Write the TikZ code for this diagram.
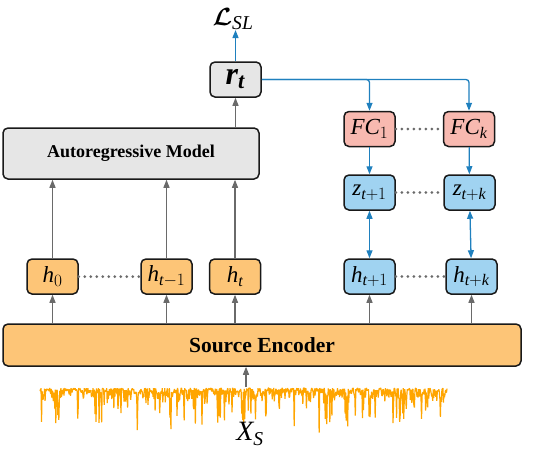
\documentclass[tikz,border=0pt]{standalone}
\usepackage{amsmath, bm}
\usepackage{fontspec}
\setmainfont{Liberation Serif}
\usetikzlibrary{positioning, arrows.meta}

\definecolor{encfill}{HTML}{FDC577}
\definecolor{predfill}{HTML}{A0D3F1}
\definecolor{fcfill}{HTML}{F8B9B0}
\definecolor{arfill}{HTML}{E6E6E6}
\definecolor{arrowgray}{HTML}{6A6A6A}
\definecolor{arrowblue}{HTML}{1F80BE}
\definecolor{wave}{HTML}{FFA500}

\newcommand{\iv}[1]{\textit{#1}}

\tikzset{
  box/.style = {draw = black!90, line width = 1.5pt, rounded corners = 5pt, inner sep = 0pt},
  small/.style = {box, minimum width = 51pt, minimum height = 35pt, font = \fontsize{23}{25}\selectfont},
  hbox/.style = {small, fill = encfill},
  zbox/.style = {small, fill = predfill},
  fcbox/.style = {small, fill = fcfill},
  up/.style = {-{Triangle[length = 8pt, width = 6pt]}, line width = 1.3pt, draw = arrowgray},
  blue/.style = {-{Triangle[length = 8pt, width = 6pt]}, line width = 1.3pt, draw = arrowblue},
  dots/.style = {draw = arrowgray, line width = 3pt, dash pattern = on 0pt off 6pt, line cap = round}
}

\begin{document}
\begin{tikzpicture}[x = 1pt, y = -1pt]
  \useasboundingbox (0,0) rectangle (534,452);

  \node (encoder) [box, fill = encfill, minimum width = 518pt, minimum height = 42pt, font = \fontsize{21.5}{23}\selectfont\bfseries] at (262,345) {Source Encoder};

  \node (hzero) [hbox] at (52.5,276.5) {$\iv{h}_0$};
  \node (htm) [hbox] at (166.5,276.5) {$\iv{h}_{\iv{t}-1}$};
  \node (ht) [hbox, right = 16pt of htm] {$\iv{h}_{\iv{t}}$};
  \node (hone) [zbox] at (369.5,276.5) {$\iv{h}_{\iv{t}+1}$};
  \node (hk) [zbox] at (471.5,276.5) {$\iv{h}_{\iv{t}+\iv{k}}$};

  \node (ar) [box, fill = arfill, minimum width = 256pt, minimum height = 51pt, font = \fontsize{18}{20}\selectfont\bfseries] at (131,153.5) {Autoregressive Model};
  \node (rt) [small, fill = arfill, font = \fontsize{32}{34}\selectfont] at (235.5,79.5) {$\textbf{\textit{r}}_{\textbf{\textit{t}}}$};
  \node (loss) [inner sep = 0pt, font = \fontsize{28}{30}\selectfont] at (233,19) {$\bm{\mathcal{L}}_{\iv{SL}}$};

  \node (fcone) [fcbox] at (369.5,129) {$\iv{FC}_1$};
  \node (fck) [fcbox] at (469,129) {$\iv{FC}_{\iv{k}}$};
  \node (zone) [zbox] at (369.5,192.5) {$\iv{z}_{\iv{t}+1}$};
  \node (zk) [zbox] at (469.5,192.5) {$\iv{z}_{\iv{t}+\iv{k}}$};

  % input signal
  \pgfmathsetseed{7}
  \draw[wave, line width = 1.2pt, line join = bevel] plot[domain = 40:447, samples = 800] (\x, {388 + 16*rnd*rnd + ifthenelse(rnd > 0.88, 12 + 24*rnd, 0)});
  \coordinate (sigtop) at (246,387);
  \node (xs) [inner sep = 0pt, font = \fontsize{28}{30}\selectfont] at (250,434) {$\iv{X}_{\iv{S}}$};

  \draw[up] (sigtop) -- (sigtop |- encoder.south);
  \foreach \h in {hzero, htm, ht, hone, hk}
    \draw[up] (\h |- encoder.north) -- (\h.south);
  \foreach \h in {hzero, htm, ht}
    \draw[up] (\h.north) -- (\h |- ar.south);
  \draw[up] (rt |- ar.north) -- (rt.south);

  \draw[blue] (rt.north) -- (rt.north |- loss.south);
  \draw[blue, rounded corners = 3pt] (rt.east) -| (fcone.north);
  \draw[blue, rounded corners = 3pt] (rt.east) -| (fck.north);
  \draw[blue] (fcone) -- (zone);
  \draw[blue] (fck) -- (zk);
  \draw[blue, {Triangle[length = 8pt, width = 6pt]}-{Triangle[length = 8pt, width = 6pt]}] (hone) -- (zone);
  \draw[blue, {Triangle[length = 8pt, width = 6pt]}-{Triangle[length = 8pt, width = 6pt]}] (hk) -- (zk);

  \draw[dots] (hzero) -- (htm);
  \draw[dots] (hone) -- (hk);
  \draw[dots] (fcone) -- (fck);
  \draw[dots] (zone) -- (zk);
\end{tikzpicture}
\end{document}
